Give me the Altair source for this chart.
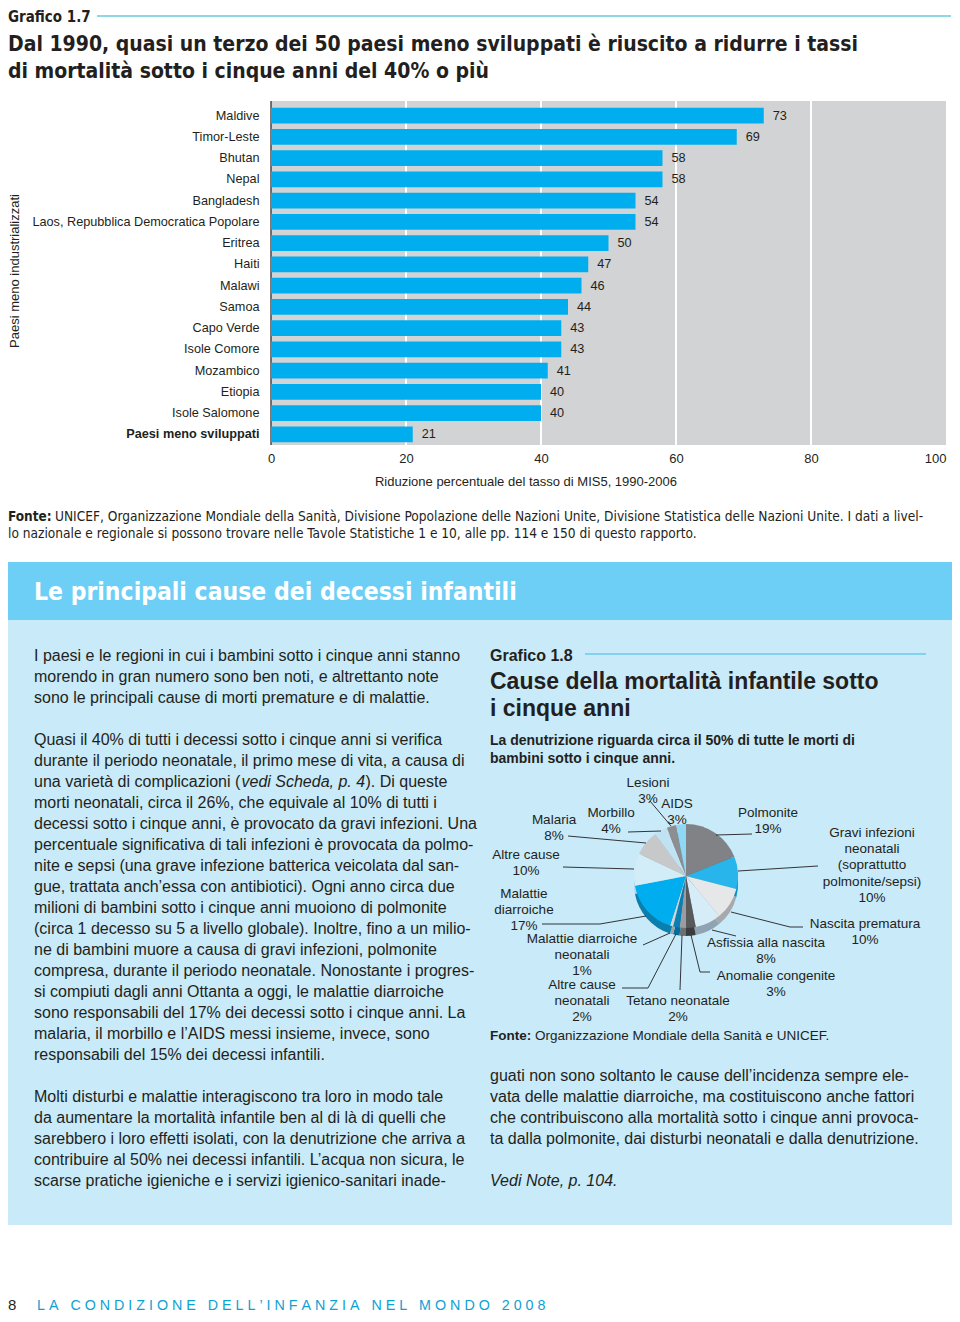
import altair as alt
import pandas as pd

# ---------------- data ----------------
COUNTRIES = ["Maldive", "Timor-Leste", "Bhutan", "Nepal", "Bangladesh",
             "Laos, Repubblica Democratica Popolare", "Eritrea", "Haiti", "Malawi",
             "Samoa", "Capo Verde", "Isole Comore", "Mozambico", "Etiopia",
             "Isole Salomone", "Paesi meno sviluppati"]
REDUCTION = [73, 69, 58, 58, 54, 54, 50, 47, 46, 44, 43, 43, 41, 40, 40, 21]
X_TICKS = [0, 20, 40, 60, 80, 100]
GRID_AT = [20, 40, 60, 80]

CAUSES = ["Polmonite", "Gravi infezioni neonatali", "Nascita prematura",
          "Asfissia alla nascita", "Anomalie congenite", "Tetano neonatale",
          "Altre cause neonatali", "Malattie diarroiche neonatali",
          "Malattie diarroiche", "Altre cause", "Malaria", "Morbillo",
          "Lesioni", "AIDS"]
SHARES = [19, 10, 10, 8, 3, 2, 2, 1, 17, 10, 8, 4, 3, 3]

# pie labels (text content)
PIE_LABELS = [
    ["Lesioni", "3%"], ["AIDS", "3%"], ["Morbillo", "4%"], ["Malaria", "8%"],
    ["Polmonite", "19%"],
    ["Gravi infezioni", "neonatali", "(soprattutto", "polmonite/sepsi)", "10%"],
    ["Altre cause", "10%"], ["Malattie", "diarroiche", "17%"],
    ["Nascita prematura", "10%"], ["Malattie diarroiche", "neonatali", "1%"],
    ["Asfissia alla nascita", "8%"], ["Anomalie congenite", "3%"],
    ["Altre cause", "neonatali", "2%"], ["Tetano neonatale", "2%"],
]

# ---------------- texts ----------------
KICKER_1 = "Grafico 1.7"
HEADLINE = ["Dal 1990, quasi un terzo dei 50 paesi meno sviluppati è riuscito a ridurre i tassi",
            "di mortalità sotto i cinque anni del 40% o più"]
Y_TITLE = "Paesi meno industrializzati"
X_TITLE = "Riduzione percentuale del tasso di MIS5, 1990-2006"
FONTE_1 = ["UNICEF, Organizzazione Mondiale della Sanità, Divisione Popolazione delle Nazioni Unite, Divisione Statistica delle Nazioni Unite. I dati a livel-",
           "lo nazionale e regionale si possono trovare nelle Tavole Statistiche 1 e 10, alle pp. 114 e 150 di questo rapporto."]
BOX_TITLE = "Le principali cause dei decessi infantili"
P1 = ["I paesi e le regioni in cui i bambini sotto i cinque anni stanno",
      "morendo in gran numero sono ben noti, e altrettanto note",
      "sono le principali cause di morti premature e di malattie."]
P2 = ["Quasi il 40% di tutti i decessi sotto i cinque anni si verifica",
      "durante il periodo neonatale, il primo mese di vita, a causa di",
      "una varietà di complicazioni (",
      "morti neonatali, circa il 26%, che equivale al 10% di tutti i",
      "decessi sotto i cinque anni, è provocato da gravi infezioni. Una",
      "percentuale significativa di tali infezioni è provocata da polmo-",
      "nite e sepsi (una grave infezione batterica veicolata dal san-",
      "gue, trattata anch’essa con antibiotici). Ogni anno circa due",
      "milioni di bambini sotto i cinque anni muoiono di polmonite",
      "(circa 1 decesso su 5 a livello globale). Inoltre, fino a un milio-",
      "ne di bambini muore a causa di gravi infezioni, polmonite",
      "compresa, durante il periodo neonatale. Nonostante i progres-",
      "si compiuti dagli anni Ottanta a oggi, le malattie diarroiche",
      "sono responsabili del 17% dei decessi sotto i cinque anni. La",
      "malaria, il morbillo e l’AIDS messi insieme, invece, sono",
      "responsabili del 15% dei decessi infantili."]
P2_ITALIC = "vedi Scheda, p. 4"
P2_TAIL = "). Di queste"
P3 = ["Molti disturbi e malattie interagiscono tra loro in modo tale",
      "da aumentare la mortalità infantile ben al di là di quelli che",
      "sarebbero i loro effetti isolati, con la denutrizione che arriva a",
      "contribuire al 50% nei decessi infantili. L’acqua non sicura, le",
      "scarse pratiche igieniche e i servizi igienico-sanitari inade-"]
P4 = ["guati non sono soltanto le cause dell’incidenza sempre ele-",
      "vata delle malattie diarroiche, ma costituiscono anche fattori",
      "che contribuiscono alla mortalità sotto i cinque anni provoca-",
      "ta dalla polmonite, dai disturbi neonatali e dalla denutrizione."]
NOTE = "Vedi Note, p. 104."
KICKER_2 = "Grafico 1.8"
TITLE_2 = ["Cause della mortalità infantile sotto", "i cinque anni"]
SUB_2 = ["La denutrizione riguarda circa il 50% di tutte le morti di",
         "bambini sotto i cinque anni."]
FONTE_2 = "Organizzazione Mondiale della Sanità e UNICEF."
FOOT_NUM = "8"
FOOT_WORDS = ["LA", "CONDIZIONE", "DELL’INFANZIA", "NEL", "MONDO", "2008"]

# ---------------- styles / layout ----------------
INK = "#231f20"
SANS = "Liberation Sans, Arial, sans-serif"
NARROW = "DejaVu Sans Condensed, Liberation Sans Narrow, Arial Narrow, sans-serif"
BAR_BLUE = "#00aeef"
BG_GRAY = "#d1d3d4"
BOX_HEAD = "#6dcff6"
BOX_BODY = "#c8eaf9"
FOOT_BLUE = "#0ea2d3"
PIE_TOP = ["#808285", "#27b5ec", "#e6e7e8", "#d6edf8", "#58595b", "#9a9c9f",
           "#0a7fb5", "#d1d3d4", "#00aeef", "#d2ecf8", "#c7c8ca", "#c0e2f3",
           "#8c8e91", "#8ed8f6"]
PIE_SIDE = ["#5e6063", "#0b8fc3", "#a7a9ac", "#8fa3b0", "#3c3c3e", "#6d6e71",
            "#006d9d", "#a0a2a4", "#0a7fae", "#a6d6ec", "#a2a4a6", "#9ccbe2",
            "#6d6e71", "#5fbde6"]

OX, OY = 271, 105          # page position of plot origin
W, H = 675, 340            # bar plot area
TOTAL_W, TOTAL_H = 944, 1306


def X(p):
    return p - OX


def Y(p):
    return p - OY


ONE = pd.DataFrame({"k": [0]})


def text(lines, x, y, size, weight="normal", style="normal", align="left",
         color=INK, font=SANS, lh=None, baseline="alphabetic", angle=None):
    kw = dict(text=lines if isinstance(lines, str) else list(lines),
              fontSize=size, fontWeight=weight, fontStyle=style, align=align,
              color=color, font=font, baseline=baseline)
    if lh:
        kw["lineHeight"] = lh
    if angle:
        kw["angle"] = angle
    return alt.Chart(ONE).mark_text(**kw).encode(x=alt.value(X(x)), y=alt.value(Y(y)))


def rect(x1, y1, x2, y2, color):
    return alt.Chart(ONE).mark_rect(color=color).encode(
        x=alt.value(X(x1)), x2=alt.value(X(x2)), y=alt.value(Y(y1)), y2=alt.value(Y(y2)))


def seg(x1, y1, x2, y2, color=INK, width=0.9):
    return alt.Chart(ONE).mark_rule(color=color, strokeWidth=width).encode(
        x=alt.value(X(x1)), x2=alt.value(X(x2)), y=alt.value(Y(y1)), y2=alt.value(Y(y2)))


layers = []

# ---- page furniture: headings ----
layers.append(text(KICKER_1, 8, 17, 15, weight="bold", font=NARROW, baseline="middle"))
layers.append(seg(97, 16, 951, 16, color="#8ed8e6", width=2))
layers.append(text(HEADLINE, 8, 51, 21, weight="bold", font=NARROW, lh=27))

# ---- bar chart ----
bars_df = pd.DataFrame({"country": COUNTRIES, "value": REDUCTION})
grid_df = pd.DataFrame({"value": GRID_AT})

x_enc = alt.X("value:Q", scale=alt.Scale(domain=[0, 100], nice=False, zero=True),
              axis=alt.Axis(values=X_TICKS, grid=False, ticks=False, domain=False,
                            labelPadding=7, labelFlush=False, title=None, format="d",
                            labelAlign=alt.expr("datum.value == 100 ? 'right' : 'center'"),
                            labelFontSize=13, labelColor=INK, labelFont=SANS))
y_enc = alt.Y("country:N", sort=COUNTRIES,
              scale=alt.Scale(paddingInner=0.25, paddingOuter=0.125),
              axis=alt.Axis(title=None, ticks=False, domain=False, labelPadding=12,
                            labelFontSize=12.7, labelColor=INK, labelFont=SANS,
                            labelLimit=400,
                            labelFontWeight=alt.expr("datum.value == 'Paesi meno sviluppati' ? 'bold' : 'normal'")))

layers.append(rect(271, 101, 946, 445, BG_GRAY))
layers.append(alt.Chart(grid_df).mark_rule(color="white", strokeWidth=2).encode(
    x=x_enc, y=alt.value(-4), y2=alt.value(H)))
layers.append(seg(271, 101, 271, 445, color=INK, width=1.2))
layers.append(alt.Chart(bars_df).mark_bar(color=BAR_BLUE).encode(x=x_enc, y=y_enc))
layers.append(alt.Chart(bars_df).mark_text(align="left", dx=9, fontSize=12.7, color=INK,
                                           font=SANS, baseline="middle").encode(
    x=x_enc, y=y_enc, text=alt.Text("value:Q", format="d")))
layers.append(text(Y_TITLE, 15, 271, 13, angle=270, align="center", baseline="middle"))
layers.append(text(X_TITLE, 526, 482, 13, align="center", baseline="middle"))

# ---- source line ----
layers.append(text("Fonte:", 8, 517, 13.5, weight="bold", font=NARROW, baseline="middle"))
layers.append(text(FONTE_1[0], 55, 517, 13.6, font=NARROW, baseline="middle"))
layers.append(text(FONTE_1[1], 8, 534, 13.6, font=NARROW, baseline="middle"))

# ---- blue box ----
layers.append(rect(8, 562, 954, 620, BOX_HEAD))
layers.append(rect(8, 620, 954, 1225, BOX_BODY))
layers.append(text(BOX_TITLE, 34, 593, 24.5, weight="bold", font=NARROW, color="white",
                   baseline="middle"))

# left column
layers.append(text(P1, 34, 661, 16, lh=21))
layers.append(text(P2, 34, 745, 16, lh=21))
layers.append(text(P2_ITALIC, 241.5, 787, 16, style="italic"))
layers.append(text(P2_TAIL, 365.5, 787, 16))
layers.append(text(P3, 34, 1102, 16, lh=21))

# right column
layers.append(text(KICKER_2, 490, 656, 16, weight="bold", baseline="middle"))
layers.append(seg(585, 654, 926, 654, color="#84d0ef", width=2))
layers.append(text(TITLE_2, 490, 689, 23, weight="bold", lh=27))
layers.append(text(SUB_2, 490, 745, 14, weight="bold", lh=18))

# pie
pie_df = pd.DataFrame({"cause": CAUSES, "share": SHARES, "idx": list(range(len(CAUSES))),
                       "top": PIE_TOP, "side": PIE_SIDE})
CX, CY, R, DEPTH = 686, 876, 52, 8
layers.append(alt.Chart(pie_df).mark_arc(outerRadius=R).encode(
    theta=alt.Theta("share:Q", stack=True), order=alt.Order("idx:Q"),
    color=alt.Color("side:N", scale=None),
    x=alt.value(X(CX)), y=alt.value(Y(CY + DEPTH))))
layers.append(alt.Chart(pie_df).mark_arc(outerRadius=R).encode(
    theta=alt.Theta("share:Q", stack=True), order=alt.Order("idx:Q"),
    color=alt.Color("top:N", scale=None),
    x=alt.value(X(CX)), y=alt.value(Y(CY))))

PIE_LABEL_POS = [(648, 782), (677, 803), (611, 812), (554, 819), (768, 812),
                 (872, 832), (526, 854), (524, 893), (865, 923), (582, 938),
                 (766, 942), (776, 975), (582, 984), (678, 1000)]
for lines, (lx, ly) in zip(PIE_LABELS, PIE_LABEL_POS):
    layers.append(text(lines, lx, ly + 5, 13.5, align="center", lh=16.2))

LEADERS = [
    [(752, 834), (716, 835)],
    [(818, 866), (738, 871)],
    [(803, 927), (790, 927), (731, 912)],
    [(736, 936), (712, 930)],
    [(710, 972), (700, 972), (691, 935)],
    [(680, 990), (682, 935)],
    [(622, 988), (648, 988), (676, 934)],
    [(643, 945), (670, 933)],
    [(542, 924), (600, 924), (646, 916)],
    [(563, 867), (634, 869)],
    [(568, 836), (646, 843)],
    [(628, 832), (661, 831)],
    [(650, 801), (671, 826)],
]
for pts in LEADERS:
    for (a, b), (c, d) in zip(pts[:-1], pts[1:]):
        layers.append(seg(a, b, c, d))

layers.append(text("Fonte:", 490, 1040, 13.5, weight="bold"))
layers.append(text(FONTE_2, 535, 1040, 13.5))
layers.append(text(P4, 490, 1081, 16, lh=21))
layers.append(text(NOTE, 490, 1186, 16, style="italic"))

# footer
NB = "\u00a0"
footer = (NB * 3).join(NB.join(w) for w in FOOT_WORDS)
layers.append(text(FOOT_NUM, 8, 1310, 15))
layers.append(text(footer, 37, 1310, 14.3, color=FOOT_BLUE))

chart = alt.layer(*layers).properties(
    width=W, height=H,
    autosize=alt.AutoSizeParams(type="none"),
    padding={"left": OX - 8, "top": OY - 8, "right": TOTAL_W - (OX - 8) - W,
             "bottom": TOTAL_H - (OY - 8) - H},
    background="white",
).configure_view(strokeWidth=0, fill=None)

chart.save("out.html", embed_options={"renderer": "svg", "actions": False})
